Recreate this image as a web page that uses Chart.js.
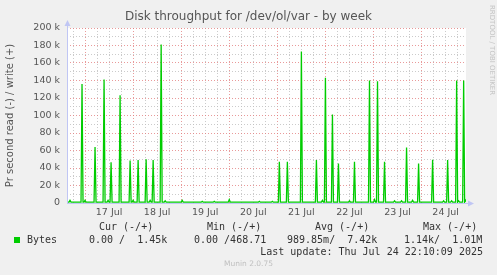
<!DOCTYPE html>
<html>
<head>
<meta charset="utf-8">
<script src="https://cdn.jsdelivr.net/npm/chart.js@4.4.1/dist/chart.umd.min.js"></script>
<style>
  body { margin: 0; background: #f0f0f0; }
  #wrap { position: relative; width: 497px; height: 275px; overflow: hidden; }
  canvas { position: absolute; left: 0; top: 0; }
  .t { position: absolute; white-space: pre; }
  .mono { font: 10px "DejaVu Sans Mono"; color: #333; line-height: 12px; }
</style>
</head>
<body>
<div id="wrap">
  <canvas id="c" width="497" height="275"></canvas>
  <div class="t" style="left:0;width:497px;text-align:center;top:9px;font:12px 'DejaVu Sans';color:#555;line-height:14px">Disk throughput for /dev/ol/var - by week</div>
  <div class="t" style="left:484px;top:5px;transform-origin:0 0;transform:translate(12px,0) rotate(90deg);font:7px 'DejaVu Sans';color:#c4c4c4;line-height:9px">RRDTOOL / TOBI OETIKER</div>

  <div class="t mono" style="left:99px;top:221px">Cur (-/+)</div>
  <div class="t mono" style="left:207px;top:221px">Min (-/+)</div>
  <div class="t mono" style="left:315px;top:221px">Avg (-/+)</div>
  <div class="t mono" style="left:423px;top:221px">Max (-/+)</div>

  <div class="t" style="left:14px;top:237px;width:6px;height:6px;background:#00cc00"></div>
  <div class="t mono" style="left:27px;top:234px">Bytes</div>
  <div class="t mono" style="left:89px;top:234px">0.00 /  1.45k</div>
  <div class="t mono" style="left:194px;top:234px">0.00 /468.71</div>
  <div class="t mono" style="left:287px;top:234px">989.85m/  7.42k</div>
  <div class="t mono" style="left:404px;top:234px">1.14k/  1.01M</div>

  <div class="t mono" style="right:14px;top:246px">Last update: Thu Jul 24 22:10:09 2025</div>
  <div class="t" style="left:0;width:497px;text-align:center;top:259px;font:7.5px 'DejaVu Sans';color:#c0c0c0;line-height:10px">Munin 2.0.75</div>
</div>

<script>
// hours relative to 17 Jul 00:00
const hours = [
  -9, -8, -7.5, -7, -2, -1.5, -1, -0.5, 0, 0.5,
  4.5, 5, 5.5, 9, 9.5, 10, 11, 11.5, 12, 12.5,
  13, 13.5, 17, 17.5, 18, 22, 22.5, 23, 23.5, 24,
  24.5, 26, 26.5, 27, 30, 30.5, 31, 32, 32.5, 33,
  33.5, 34, 34.5, 37.5, 38, 38.5, 39.5, 40, 40.5, 48,
  48.5, 49, 58, 58.5, 59, 64, 64.5, 65, 71.5, 72,
  72.5, 86.5, 87, 87.5, 93, 93.5, 94, 96.5, 97, 97.5,
  100.5, 101, 101.5, 107.5, 108, 108.5, 115, 115.5, 116, 118,
  118.5, 119, 119.5, 120, 120.5, 123, 123.5, 124, 126, 126.5,
  127, 131.5, 132, 132.5, 134, 134.5, 135, 141.5, 142, 142.5,
  144, 144.5, 145, 145.5, 146, 146.5, 149, 149.5, 150, 154,
  154.5, 155, 157.5, 158, 158.5, 160, 160.5, 161, 163, 163.5,
  164, 166, 166.5, 167, 173, 173.5, 174, 178.5, 179, 179.5,
  180.5, 181, 181.5, 182.5, 183, 183.5, 185, 185.5, 186, 186.5,
  187, 188.5, 189, 189.5, 190, 190.17
];
const bytes = [
  1000, 1000, 3000, 1000, 1000, 136000, 1000, 1000, 3000, 1000,
  1000, 64000, 1000, 1000, 141000, 1000, 1000, 3000, 1000, 1000,
  46500, 1000, 1000, 123000, 1000, 1000, 48500, 1000, 1000, 3000,
  1000, 1000, 49000, 1000, 1000, 50000, 1000, 1000, 3000, 1000,
  1000, 49000, 1000, 1000, 181000, 1000, 1000, 2500, 1000, 1000,
  3000, 1000, 1000, 2000, 1000, 1000, 2000, 1000, 1000, 4000,
  1000, 1000, 2000, 1000, 1000, 2000, 1000, 1000, 47000, 1000,
  1000, 47000, 1000, 1000, 173000, 1000, 1000, 49000, 1000, 1000,
  3000, 1000, 1000, 143000, 1000, 1000, 101000, 1000, 1000, 45000,
  1000, 1000, 2500, 1000, 1000, 47000, 1000, 1000, 140000, 1000,
  1000, 4000, 1000, 1000, 139000, 1000, 1000, 47000, 1000, 1000,
  2500, 1000, 1000, 2500, 1000, 1000, 63500, 1000, 1000, 3000,
  1000, 1000, 45000, 1000, 1000, 49500, 1000, 1000, 2500, 1000,
  1000, 49000, 1000, 1000, 2500, 1000, 1000, 140000, 1000, 2500,
  1000, 1000, 140000, 1000, 3000, 1450
];
const dayLabels = ['17 Jul', '18 Jul', '19 Jul', '20 Jul', '21 Jul', '22 Jul', '23 Jul', '24 Jul'];
const yTicks = [0, 10000, 20000, 30000, 40000, 50000, 60000, 70000, 80000, 90000, 100000,
  110000, 120000, 130000, 140000, 150000, 160000, 170000, 180000, 190000, 200000];
const xGrid = [];
for (let h = -6; h <= 186; h += 6) xGrid.push(h);

const MAJOR = 'rgba(225,120,120,0.75)';
const MINOR = 'rgba(190,190,190,0.8)';
const AXIS = '#c0c6f4';
const tickFont = { family: 'DejaVu Sans', size: 9.5 };

const munin = {
  id: 'munin',
  beforeDraw(chart) {
    const a = chart.chartArea, ctx = chart.ctx;
    ctx.save();
    ctx.fillStyle = '#ffffff';
    ctx.fillRect(a.left, a.top, a.right - a.left, a.bottom - a.top);
    ctx.restore();
  },
  afterDraw(chart) {
    const a = chart.chartArea, ctx = chart.ctx;
    ctx.save();
    ctx.strokeStyle = AXIS;
    ctx.fillStyle = AXIS;
    ctx.lineWidth = 1;
    ctx.beginPath();
    ctx.moveTo(a.left + 0.5, a.bottom);
    ctx.lineTo(a.left + 0.5, a.top - 4);
    ctx.moveTo(a.left, a.bottom + 0.5);
    ctx.lineTo(a.right + 3, a.bottom + 0.5);
    ctx.stroke();
    ctx.beginPath();
    ctx.moveTo(a.left - 2.5, a.top - 2);
    ctx.lineTo(a.left + 3.5, a.top - 2);
    ctx.lineTo(a.left + 0.5, a.top - 8);
    ctx.closePath();
    ctx.fill();
    ctx.beginPath();
    ctx.moveTo(a.right + 2, a.bottom - 2.5);
    ctx.lineTo(a.right + 2, a.bottom + 3.5);
    ctx.lineTo(a.right + 8, a.bottom + 0.5);
    ctx.closePath();
    ctx.fill();
    ctx.restore();
  }
};

new Chart(document.getElementById('c'), {
  type: 'line',
  data: {
    datasets: [{
      label: 'Bytes',
      data: hours.map((h, i) => ({ x: h, y: bytes[i] })),
      borderColor: '#00cc00',
      borderWidth: 1.3,
      pointRadius: 0,
      tension: 0,
      fill: false
    }]
  },
  options: {
    responsive: false,
    animation: false,
    devicePixelRatio: 1,
    layout: { padding: { top: 28, right: 31, bottom: 0, left: 0 } },
    plugins: { legend: { display: false }, tooltip: { enabled: false } },
    scales: {
      x: {
        type: 'linear',
        min: -9,
        max: 190.17,
        afterBuildTicks: s => { s.ticks = xGrid.map(v => ({ value: v })); },
        afterFit: s => { s.height = 72; },
        ticks: {
          autoSkip: false,
          maxRotation: 0,
          padding: 4,
          color: '#555',
          font: tickFont,
          callback: v => ((v - 12) % 24 === 0 ? dayLabels[(v - 12) / 24] : '')
        },
        grid: {
          drawTicks: false,
          color: c => (c.tick && c.tick.value % 24 === 0 ? MAJOR : MINOR)
        },
        border: { display: false, dash: [1, 2] }
      },
      y: {
        min: 0,
        max: 200000,
        afterBuildTicks: s => { s.ticks = yTicks.map(v => ({ value: v })); },
        afterFit: s => { s.width = 67; },
        ticks: {
          autoSkip: false,
          padding: 7,
          color: '#555',
          font: tickFont,
          callback: v => (v % 20000 !== 0 ? '' : v === 0 ? '0' : v / 1000 + ' k')
        },
        grid: {
          drawTicks: false,
          color: c => (c.tick && c.tick.value % 20000 === 0 ? MAJOR : MINOR)
        },
        border: { display: false, dash: [1, 2] },
        title: {
          display: true,
          text: 'Pr second read (-) / write (+)',
          color: '#555',
          font: { family: 'DejaVu Sans', size: 10 },
          padding: { top: 4, bottom: 0 }
        }
      }
    }
  },
  plugins: [munin]
});
</script>
</body>
</html>
